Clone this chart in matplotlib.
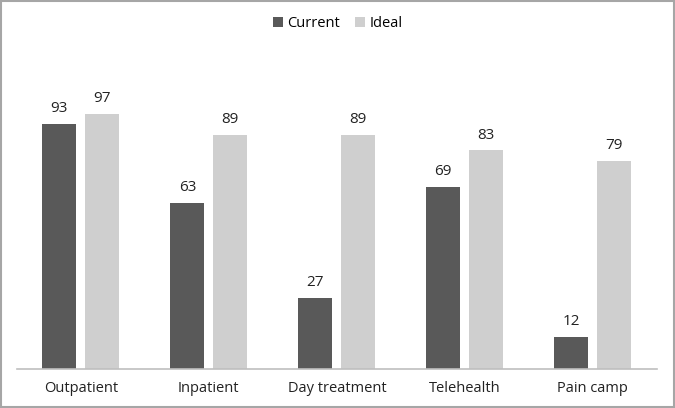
import matplotlib.pyplot as plt
import numpy as np
from matplotlib.patches import Rectangle

categories = ['Outpatient', 'Inpatient', 'Day treatment', 'Telehealth', 'Pain camp']
current = [93, 63, 27, 69, 12]
ideal = [97, 89, 89, 83, 79]

plt.rcParams['font.family'] = ['Open Sans', 'DejaVu Sans']

fig = plt.figure(figsize=(6.75, 4.08), dpi=100)
ax = fig.add_axes([0.025, 0.0956, 0.948, 0.7745])

x = np.arange(len(categories))
w = 0.266
off = 0.168
b1 = ax.bar(x - off, current, w, color='#595959', label='Current')
b2 = ax.bar(x + off, ideal, w, color='#CFCFCF', label='Ideal')

for bars, vals in ((b1, current), (b2, ideal)):
    for bar, v in zip(bars, vals):
        ax.text(bar.get_x() + bar.get_width() / 2, v + 3, str(v),
                ha='center', va='bottom', fontsize=11, color='#222222')

ax.set_xlim(-0.5, len(categories) - 0.5)
ax.set_ylim(0, 120)
ax.set_xticks(x)
ax.set_xticklabels(categories, fontsize=10.5, color='#222222')
ax.tick_params(axis='x', length=0, pad=9)
ax.set_yticks([])
for s in ('top', 'left', 'right'):
    ax.spines[s].set_visible(False)
ax.spines['bottom'].set_color('#BFBFBF')
ax.spines['bottom'].set_linewidth(1.2)

fig.legend(handles=[b1, b2], loc='center', bbox_to_anchor=(0.5, 0.942), ncol=2,
           frameon=False, fontsize=10.5, handlelength=0.7, handleheight=0.7,
           handletextpad=0.3, columnspacing=1.0)

fig.patches.append(Rectangle((0.0015, 0.0025), 0.997, 0.995, transform=fig.transFigure,
                             fill=False, edgecolor='#A6A6A6', linewidth=1.5))

fig.savefig('out.png', dpi=100)
